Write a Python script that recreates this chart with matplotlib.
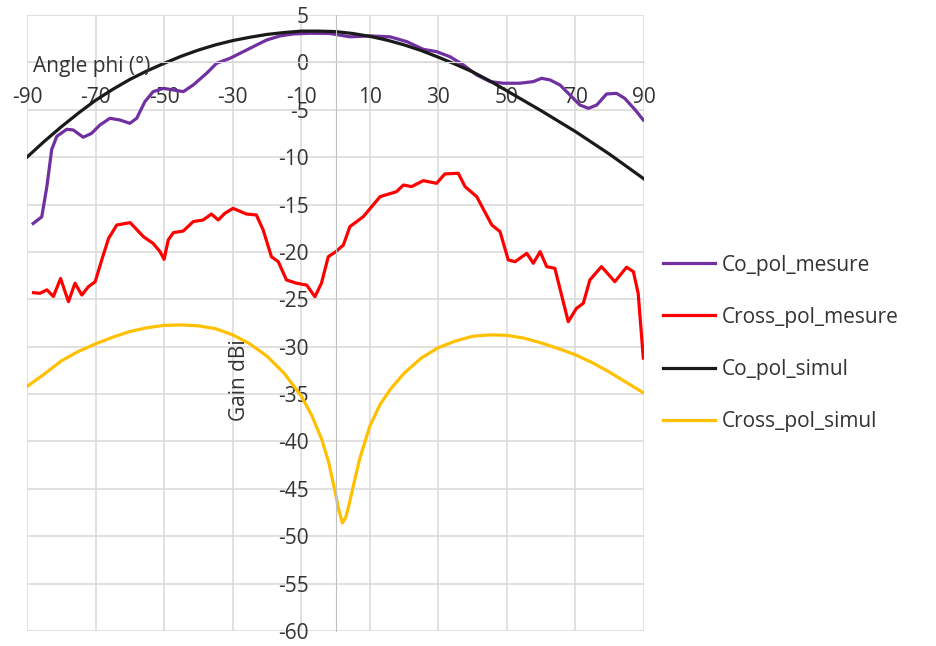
import matplotlib
matplotlib.use('Agg')
import matplotlib.pyplot as plt

plt.rcParams['font.family'] = ['Open Sans', 'DejaVu Sans']
plt.rcParams['axes.unicode_minus'] = False

# Co_pol_mesure (purple)
co_mes_x = [-88.2, -85.7, -84.2, -82.8, -81.3, -78.4, -76.5, -73.6, -71.2, -68.7, -65.8,
            -62.9, -60.0, -58.0, -55.6, -53.2, -50.2, -47.3, -44.4, -41.5, -37.6, -34.7,
            -30.8, -26.9, -24.0, -20.1, -16.2, -12.3, -7.5, -1.6, 4.2, 10.1, 15.9, 20.8,
            25.6, 29.5, 33.4, 37.3, 41.2, 45.1, 49.0, 53.8, 57.7, 60.1, 62.6, 65.5, 68.4,
            71.3, 73.8, 76.2, 79.1, 82.0, 84.4, 87.4, 89.8]
co_mes_y = [-17.0, -16.3, -13.1, -9.2, -7.8, -7.06, -7.13, -7.9, -7.5, -6.6, -5.9,
            -6.08, -6.43, -5.9, -4.14, -3.09, -2.74, -2.91, -3.09, -2.38, -1.15, -0.1,
            0.43, 1.13, 1.66, 2.36, 2.79, 3.0, 3.07, 3.05, 2.7, 2.79, 2.7, 2.19,
            1.38, 1.13, 0.6, -0.27, -1.33, -2.03, -2.2, -2.2, -2.03, -1.68, -1.85, -2.39, -3.44,
            -4.5, -4.85, -4.5, -3.33, -3.27, -3.8, -5.0, -6.08]

# Cross_pol_mesure (red)
cross_mes_x = [-88.1, -86.2, -84.2, -82.3, -80.2, -77.9, -76.0, -74.0, -72.1, -70.1, -68.2,
               -66.2, -63.8, -59.9, -56.0, -53.2, -51.2, -50.0, -48.8, -47.3, -44.4, -41.5,
               -38.6, -36.2, -34.2, -32.3, -29.9, -26.0, -23.1, -21.1, -18.7, -16.7, -14.3,
               -11.4, -8.4, -6.0, -4.1, -2.1, 0.0, 2.3, 4.2, 8.1, 13.0, 17.8, 19.8, 22.2,
               25.6, 29.5, 31.9, 35.8, 37.8, 41.2, 45.6, 48.0, 50.4, 52.4, 55.8, 57.7, 59.7,
               61.6, 64.0, 67.9, 70.3, 72.3, 74.2, 77.6, 81.5, 84.9, 86.9, 88.3, 89.8]
cross_mes_y = [-24.3, -24.37, -24.0, -24.7, -22.8, -25.25, -23.3, -24.55, -23.67, -23.14, -20.85,
               -18.57, -17.16, -16.91, -18.4, -19.1, -19.97, -20.78, -18.74, -17.97, -17.79, -16.8,
               -16.63, -16.0, -16.63, -15.93, -15.4, -16.0, -16.1, -17.68, -20.5, -21.03, -22.96,
               -23.3, -23.5, -24.73, -23.3, -20.5, -20.0, -19.27, -17.33, -16.28, -14.17, -13.64,
               -12.94, -13.11, -12.48, -12.76, -11.77, -11.7, -13.11, -14.17, -17.16, -17.86,
               -20.85, -21.03, -20.15, -21.2, -19.97, -21.55, -21.73, -27.36, -25.95, -25.42,
               -22.96, -21.55, -23.14, -21.62, -22.08, -24.37, -31.2]

# Co_pol_simul (black)
co_sim_x = list(range(-90, 91, 5))
co_sim_y = [-10.0, -8.35, -6.8, -5.35, -4.0, -2.85, -1.8, -0.9, -0.1, 0.65, 1.3, 1.85,
            2.3, 2.65, 2.95, 3.15, 3.3, 3.3, 3.25, 3.05, 2.75, 2.35, 1.85, 1.25, 0.55,
            -0.2, -1.0, -1.95, -3.0, -4.05, -5.1, -6.2, -7.3, -8.5, -9.7, -11.0, -12.3]

# Cross_pol_simul (gold)
cross_sim_x = [-90, -85, -80, -75, -70, -65, -60, -55, -50, -45, -40, -35, -30, -25, -20,
               -15, -10, -7, -4, -2, 0, 1, 2, 3, 4, 5, 7, 10, 13, 16, 20, 25, 30, 35, 40,
               45, 50, 55, 60, 65, 70, 75, 80, 85, 90]
cross_sim_y = [-34.2, -32.9, -31.5, -30.5, -29.7, -29.0, -28.4, -28.0, -27.75, -27.7, -27.8,
               -28.1, -28.75, -29.7, -31.0, -32.8, -35.2, -37.2, -39.8, -42.2, -45.5, -47.3,
               -48.6, -48.0, -46.6, -45.0, -41.9, -38.4, -36.1, -34.5, -32.8, -31.2, -30.1,
               -29.4, -28.9, -28.75, -28.8, -29.1, -29.6, -30.2, -30.85, -31.7, -32.7, -33.8, -34.9]

x_ticks = list(range(-90, 91, 20))
y_ticks = list(range(-60, 6, 5))

fig = plt.figure(figsize=(9.36, 6.46), dpi=100)
ax = fig.add_axes([27/936, 15/646, 617/936, 616/646])

ax.plot(co_mes_x, co_mes_y, color='#7030A0', lw=2.3, label='Co_pol_mesure')
ax.plot(cross_mes_x, cross_mes_y, color='#FF0000', lw=2.3, label='Cross_pol_mesure')
ax.plot(co_sim_x, co_sim_y, color='#1a1a1a', lw=2.3, label='Co_pol_simul')
ax.plot(cross_sim_x, cross_sim_y, color='#FFC000', lw=2.3, label='Cross_pol_simul')

ax.set_xlim(-90, 90)
ax.set_ylim(-60, 5)
ax.set_xticks(x_ticks)
ax.set_yticks(y_ticks)
ax.grid(True, color='#d9d9d9', lw=1.1)
ax.set_axisbelow(True)

for s in ['top', 'right']:
    ax.spines[s].set_visible(False)
ax.spines['left'].set_position(('data', 0))
ax.spines['bottom'].set_position(('data', 0))
ax.spines['left'].set_color('#bfbfbf')
ax.spines['bottom'].set_color('#d9d9d9')
ax.tick_params(length=0, labelsize=15, labelcolor='#333333')
ax.tick_params(axis='x', pad=18)
ax.tick_params(axis='y', pad=19)

ax.text(-88.3, -0.4, 'Angle phi (°)', fontsize=15, color='#333333', ha='left', va='center')
ax.text(0.344, 0.407, 'Gain dBi', fontsize=15, color='#333333', rotation=90,
        ha='center', va='center', transform=ax.transAxes)

fig.legend(loc='upper left', bbox_to_anchor=(663/936, 0.606), frameon=False, fontsize=15,
           handlelength=2.5, handletextpad=0.3, labelspacing=1.5, borderpad=0,
           borderaxespad=0, labelcolor='#333333')

fig.savefig('out.png', dpi=100)
